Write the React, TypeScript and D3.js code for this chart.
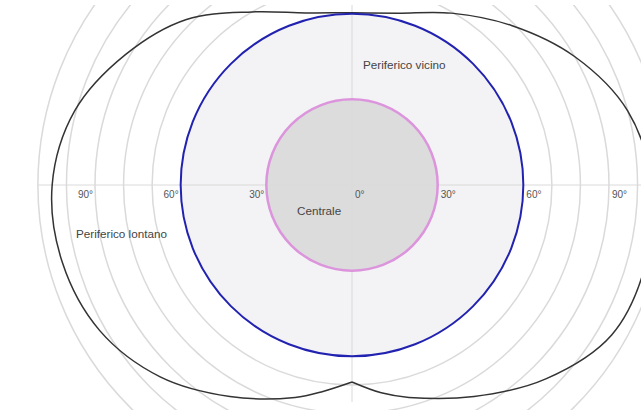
import * as d3 from "d3";
import { useEffect, useRef } from "react";

// eccentricity rings (degrees)
const gridRings = [70, 80, 90, 100, 110];
const centralLimit = 30;
const nearLimit = 60;

// far peripheral boundary: meridian angle (deg, counter-clockwise from right) and eccentricity (deg)
const farAngles = [270, 278, 285, 300, 315, 330, 345, 0, 15, 30, 45, 60, 75, 90, 105, 120, 135, 150, 165, 180, 195, 210, 225, 240, 255, 262, 270];
const farEcc = [69, 73.5, 77, 85.5, 96, 105, 106.5, 105, 100, 90, 79, 69.5, 62.3, 60.3, 62.4, 70, 82, 91.5, 100.5, 105, 105, 102, 95, 85.5, 77, 73, 69];

const tickValues = [-90, -60, -30, 0, 30, 60, 90];

const zoneLabels = ["Centrale", "Periferico vicino", "Periferico lontano"];

export default function App() {
  const svgRef = useRef<SVGSVGElement | null>(null);

  useEffect(() => {
    if (!svgRef.current) return;
    const width = 641;
    const height = 413;
    const cx = 352;
    const cy = 185;

    const r = d3.scaleLinear().domain([0, 90]).range([0, 257]);

    const svg = d3.select(svgRef.current);
    svg.selectAll("*").remove();

    svg
      .append("defs")
      .append("clipPath")
      .attr("id", "plot-clip")
      .append("rect")
      .attr("x", 0)
      .attr("y", 5)
      .attr("width", width)
      .attr("height", height - 8);

    const g = svg
      .append("g")
      .attr("transform", `translate(${cx},${cy})`);

    // background rings
    g.append("g")
      .attr("clip-path", "url(#plot-clip)")
      .attr("transform", `translate(${-cx},${-cy})`)
      .selectAll("circle")
      .data(gridRings)
      .enter()
      .append("circle")
      .attr("cx", cx)
      .attr("cy", cy)
      .attr("r", (d) => r(d))
      .attr("fill", "none")
      .attr("stroke", "#dadada")
      .attr("stroke-width", 1.5);

    // zone fills
    g.append("circle").attr("r", r(nearLimit)).attr("fill", "#f3f2f4");
    g.append("circle").attr("r", r(centralLimit)).attr("fill", "#dcdcdc");

    // axes
    const outer = r(d3.max(gridRings)!);
    g.append("line")
      .attr("x1", -outer)
      .attr("x2", width - cx)
      .attr("y1", 0)
      .attr("y2", 0)
      .attr("stroke", "#dadada")
      .attr("stroke-width", 1);
    g.append("line")
      .attr("x1", 0)
      .attr("x2", 0)
      .attr("y1", 5 - cy)
      .attr("y2", 402 - cy)
      .attr("stroke", "#dadada")
      .attr("stroke-width", 1);

    // far peripheral outline
    const farLine = d3
      .lineRadial<number>()
      .angle((_, i) => ((90 - farAngles[i]) * Math.PI) / 180)
      .radius((d) => r(d))
      .curve(d3.curveCatmullRom.alpha(0.5));

    g.append("path")
      .attr("d", farLine(farEcc))
      .attr("fill", "none")
      .attr("stroke", "#333")
      .attr("stroke-width", 1.5);

    g.append("circle")
      .attr("r", r(nearLimit))
      .attr("fill", "none")
      .attr("stroke", "#2222b0")
      .attr("stroke-width", 2);
    g.append("circle")
      .attr("r", r(centralLimit))
      .attr("fill", "none")
      .attr("stroke", "#dc94dc")
      .attr("stroke-width", 2.5);

    // degree labels
    g.selectAll("text.tick")
      .data(tickValues)
      .enter()
      .append("text")
      .attr("class", "tick")
      .attr("x", (d) => (d < 0 ? -r(-d) - 2 : r(d) + 3))
      .attr("y", 13)
      .attr("text-anchor", (d) => (d < 0 ? "end" : "start"))
      .attr("font-size", 10)
      .attr("fill", "#555")
      .text((d) => `${Math.abs(d)}°`);

    // zone labels
    const labelPos: [number, number][] = [
      [-55, 30],
      [11, -116],
      [-276, 53],
    ];
    g.selectAll("text.zone")
      .data(zoneLabels)
      .enter()
      .append("text")
      .attr("class", "zone")
      .attr("x", (_, i) => labelPos[i][0])
      .attr("y", (_, i) => labelPos[i][1])
      .attr("font-size", 11.7)
      .attr("fill", "#444")
      .text((d) => d);
  }, []);

  return (
    <svg
      ref={svgRef}
      width={641}
      height={413}
      viewBox="0 0 641 413"
      style={{
        position: "absolute",
        left: 0,
        top: 0,
        display: "block",
        background: "#fff",
        fontFamily: "'Liberation Sans', Arial, sans-serif",
      }}
    />
  );
}
